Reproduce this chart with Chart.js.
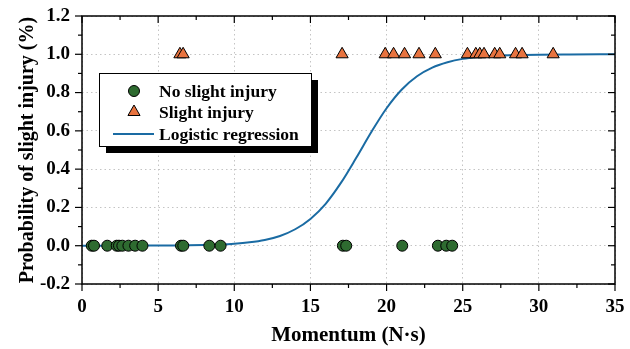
<!DOCTYPE html>
<html>
<head>
<meta charset="utf-8">
<script src="https://cdn.jsdelivr.net/npm/chart.js@4/dist/chart.umd.min.js"></script>
<style>
  html, body { margin: 0; padding: 0; background: #fff; }
  #wrap { width: 630px; height: 349px; }
</style>
</head>
<body>
<div id="wrap"><canvas id="injuryChart" width="630" height="349"></canvas></div>
<script>
// momentum (N·s) of cases without slight injury (probability 0)
var noInjuryX = [0.64, 0.79, 1.66, 2.28, 2.43, 2.65, 3.05, 3.49, 3.97, 6.5, 6.65, 8.36, 9.1,
                 17.13, 17.35, 21.03, 23.37, 23.92, 24.31];
// momentum (N·s) of cases with slight injury (probability 1)
var injuryX = [6.43, 6.64, 17.08, 19.91, 20.46, 21.18, 22.13, 23.2, 25.31, 25.86, 26.12, 26.4,
               27.1, 27.43, 28.47, 28.9, 30.94];
// logistic regression curve
var curveX = [0, 2, 4, 6, 8, 9, 10, 11, 12, 13, 14, 15, 16, 17, 18, 19, 20, 21, 22, 23, 24, 25, 26, 27, 28, 30, 32, 35];
var curveY = [0, 0.0001, 0.0004, 0.0011, 0.0034, 0.006, 0.0103, 0.0177, 0.030, 0.051, 0.086, 0.14,
              0.219, 0.328, 0.458, 0.594, 0.718, 0.816, 0.885, 0.930, 0.958, 0.976, 0.986, 0.992,
              0.995, 0.998, 0.999, 1.0];
var xTicks = [0, 5, 10, 15, 20, 25, 30, 35];
var yTicks = [-0.2, 0, 0.2, 0.4, 0.6, 0.8, 1.0, 1.2];
var seriesNames = ['No slight injury', 'Slight injury', 'Logistic regression'];

var serif = '"Liberation Serif", "Times New Roman", serif';

function pts(xs, v) {
    return xs.map(function (x) { return {x: x, y: v}; });
}
function curvePts() {
    return curveX.map(function (x, i) { return {x: x, y: curveY[i]}; });
}

// frame with outward ticks on left/bottom, inward ticks on top/right
var frameTicks = {
    id: 'frameTicks',
    afterDatasetsDraw: function (chart) {
        var ctx = chart.ctx, a = chart.chartArea;
        var sx = chart.scales.x, sy = chart.scales.y;
        function seg(x1, y1, x2, y2) { ctx.beginPath(); ctx.moveTo(x1, y1); ctx.lineTo(x2, y2); ctx.stroke(); }
        ctx.save();
        ctx.strokeStyle = '#000';
        ctx.lineWidth = 1.5;
        ctx.strokeRect(a.left, a.top, a.right - a.left, a.bottom - a.top);
        ctx.lineWidth = 1.2;
        for (var i = 0; i <= 14; i++) {
            var v = i * 2.5;
            var px = sx.getPixelForValue(v);
            var len = (i % 2 === 0) ? 7 : 4;
            seg(px, a.bottom, px, a.bottom + len);
            seg(px, a.top, px, a.top + len);
        }
        for (var j = 0; j <= 14; j++) {
            var w = -0.2 + j * 0.1;
            var py = sy.getPixelForValue(w);
            var l2 = (j % 2 === 0) ? 7 : 4;
            seg(a.left - l2, py, a.left, py);
            seg(a.right - l2, py, a.right, py);
        }
        ctx.restore();
    }
};

// boxed legend with a black drop shadow
var shadowLegend = {
    id: 'shadowLegend',
    afterDraw: function (chart) {
        var ctx = chart.ctx;
        var bx = 99, by = 73, bw = 212, bh = 73, off = 7;
        ctx.save();
        ctx.fillStyle = '#000';
        ctx.fillRect(bx + off, by + off, bw, bh);
        ctx.fillStyle = '#fff';
        ctx.fillRect(bx, by, bw, bh);
        ctx.strokeStyle = '#000';
        ctx.lineWidth = 1;
        ctx.strokeRect(bx + 0.5, by + 0.5, bw, bh);

        var ds = chart.data.datasets;
        var rows = [91, 112, 134];
        ctx.font = 'bold 17.5px ' + serif;
        ctx.textBaseline = 'middle';
        ctx.textAlign = 'left';
        for (var k = 0; k < 3; k++) {
            var d = ds[k], cy = rows[k];
            if (k === 2) {
                ctx.strokeStyle = d.borderColor;
                ctx.lineWidth = 2;
                ctx.beginPath(); ctx.moveTo(113, cy); ctx.lineTo(154, cy); ctx.stroke();
            } else {
                ctx.fillStyle = d.backgroundColor;
                ctx.strokeStyle = '#000';
                ctx.lineWidth = 1;
                ctx.beginPath();
                if (d.pointStyle === 'circle') {
                    ctx.arc(134, cy, d.pointRadius, 0, Math.PI * 2);
                } else {
                    var r = d.pointRadius;
                    ctx.moveTo(134, cy - r);
                    ctx.lineTo(134 + r * 0.866, cy + r * 0.5);
                    ctx.lineTo(134 - r * 0.866, cy + r * 0.5);
                    ctx.closePath();
                }
                ctx.fill(); ctx.stroke();
            }
            ctx.fillStyle = '#000';
            ctx.fillText(d.label, 159, cy + 1);
        }
        ctx.restore();
    }
};

var ctxc = document.getElementById('injuryChart').getContext('2d');
var injuryChart = new Chart(ctxc, {
    type: 'scatter',
    data: {
        datasets: [
            {
                label: seriesNames[0],
                data: pts(noInjuryX, 0),
                pointStyle: 'circle',
                pointRadius: 5.5,
                backgroundColor: '#2e6b30',
                borderColor: '#000',
                borderWidth: 1,
                order: 1
            },
            {
                label: seriesNames[1],
                data: pts(injuryX, 1),
                pointStyle: 'triangle',
                pointRadius: 7,
                backgroundColor: '#e8733f',
                borderColor: '#000',
                borderWidth: 1,
                order: 2
            },
            {
                label: seriesNames[2],
                data: curvePts(),
                showLine: true,
                pointRadius: 0,
                borderColor: '#1a6ba3',
                backgroundColor: '#1a6ba3',
                borderWidth: 2,
                cubicInterpolationMode: 'monotone',
                order: 3
            }
        ]
    },
    options: {
        responsive: false,
        devicePixelRatio: 1,
        animation: false,
        layout: { padding: { top: 16, right: 15, left: 0, bottom: 0 } },
        plugins: { legend: { display: false }, tooltip: { enabled: false } },
        scales: {
            x: {
                type: 'linear',
                min: 0, max: 35,
                afterBuildTicks: function (s) { s.ticks = xTicks.map(function (v) { return {value: v}; }); },
                afterFit: function (s) { s.height = 65; s.paddingLeft = 0; s.paddingRight = 0; },
                grid: { color: '#c4c4c4', lineWidth: 1, drawTicks: false },
                border: { display: false, dash: [1.5, 3] },
                ticks: {
                    padding: 12,
                    color: '#000',
                    font: { family: serif, size: 19, weight: 'bold' }
                },
                title: {
                    display: true,
                    text: 'Momentum (N·s)',
                    color: '#000',
                    font: { family: serif, size: 21, weight: 'bold' },
                    padding: { top: 0, bottom: 1 }
                }
            },
            y: {
                type: 'linear',
                min: -0.2, max: 1.2,
                afterBuildTicks: function (s) { s.ticks = yTicks.map(function (v) { return {value: v}; }); },
                afterFit: function (s) { s.width = 82; s.paddingTop = 0; s.paddingBottom = 0; },
                grid: { color: '#c4c4c4', lineWidth: 1, drawTicks: false },
                border: { display: false, dash: [1.5, 3] },
                ticks: {
                    padding: 12,
                    color: '#000',
                    font: { family: serif, size: 19, weight: 'bold' },
                    callback: function (v) { return (Math.abs(v) < 1e-9 ? 0 : v).toFixed(1); }
                },
                title: {
                    display: true,
                    text: 'Probability of slight injury (%)',
                    color: '#000',
                    font: { family: serif, size: 20, weight: 'bold' },
                    padding: { top: 16, bottom: 0 }
                }
            }
        }
    },
    plugins: [frameTicks, shadowLegend]
});
</script>
</body>
</html>
